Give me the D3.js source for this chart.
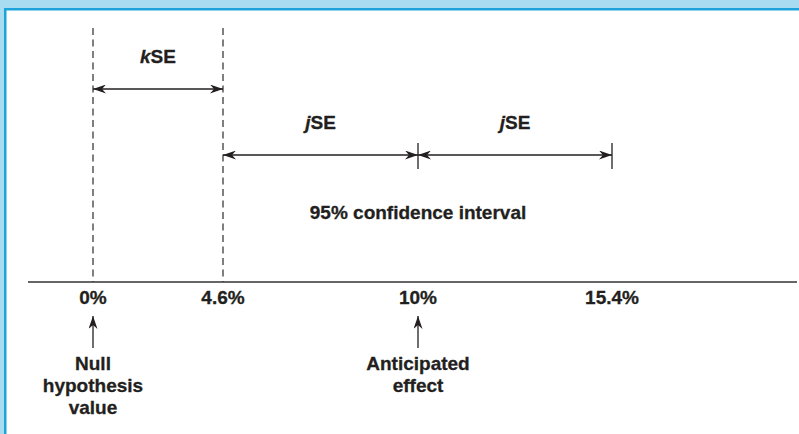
<!DOCTYPE html>
<html>
<head>
<meta charset="utf-8">
<script src="https://cdn.jsdelivr.net/npm/d3@7"></script>
<style>
  body { margin: 0; background: #fff; }
  text { font-family: "Liberation Sans", Arial, Helvetica, sans-serif; font-weight: bold; fill: #231f20; stroke: #231f20; stroke-width: 0.3px; }
</style>
</head>
<body>
<div class="figure"></div>
<script>
// values on the axis (figure is schematic, not to scale)
var tickValues = [0, 4.6, 10, 15.4];
var tickLabels = ["0%", "4.6%", "10%", "15.4%"];

// dashed guides
var dashedAt = [0, 4.6];

// SE spans: start, end, letter, row
var spanStart = [0, 4.6, 10];
var spanEnd = [4.6, 10, 15.4];
var spanLetter = ["k", "j", "j"];
var spanRow = [0, 1, 1];
var endTicksAt = [10, 15.4];

// callouts under the axis
var calloutAt = [0, 10];
var calloutLines = [["Null", "hypothesis", "value"], ["Anticipated", "effect"]];

var ciLabel = "95% confidence interval";

//Width and height
var w = 799;
var h = 434;

var x = d3.scaleLinear()
    .domain(tickValues)
    .range([93, 223, 418, 612]);

var axisY = 282;
var rowY = [89, 155];
var ink = "#231f20";

var svg = d3.select(".figure")
    .append("svg")
    .attr("width", w)
    .attr("height", h);

// frame
svg.append("rect").attr("width", w).attr("height", h).attr("fill", "#a8dcf0");
svg.append("rect").attr("x", 4).attr("y", 8).attr("width", w).attr("height", h).attr("fill", "#1ba3da");
svg.append("rect").attr("x", 6.5).attr("y", 10.5).attr("width", w).attr("height", h).attr("fill", "#fff");

// arrowhead
svg.append("defs").append("marker")
    .attr("id", "head")
    .attr("viewBox", "0 0 13 9")
    .attr("refX", 13)
    .attr("refY", 4.5)
    .attr("markerUnits", "userSpaceOnUse")
    .attr("markerWidth", 13)
    .attr("markerHeight", 9)
    .attr("orient", "auto-start-reverse")
    .append("path")
    .attr("d", "M0,0 L13,4.5 L0,9 L4,4.5 Z")
    .attr("fill", ink);

// dashed lines
svg.selectAll("line.dash")
    .data(dashedAt)
    .enter()
    .append("line")
    .attr("class", "dash")
    .attr("x1", function(d) { return x(d); })
    .attr("x2", function(d) { return x(d); })
    .attr("y1", 28)
    .attr("y2", axisY)
    .attr("stroke", "#555")
    .attr("stroke-width", 1.5)
    .attr("stroke-dasharray", "7,4.5");

// axis line
svg.append("line")
    .attr("x1", 28).attr("x2", 797)
    .attr("y1", axisY).attr("y2", axisY)
    .attr("stroke", "#333")
    .attr("stroke-width", 1.6);

// span arrows
var spans = d3.range(spanStart.length);

svg.selectAll("line.span")
    .data(spans)
    .enter()
    .append("line")
    .attr("class", "span")
    .attr("x1", function(i) { return x(spanStart[i]); })
    .attr("x2", function(i) { return x(spanEnd[i]); })
    .attr("y1", function(i) { return rowY[spanRow[i]]; })
    .attr("y2", function(i) { return rowY[spanRow[i]]; })
    .attr("stroke", ink)
    .attr("stroke-width", 1.3)
    .attr("marker-start", "url(#head)")
    .attr("marker-end", "url(#head)");

var spanText = svg.selectAll("text.span")
    .data(spans)
    .enter()
    .append("text")
    .attr("class", "span")
    .attr("x", function(i) { return (x(spanStart[i]) + x(spanEnd[i])) / 2; })
    .attr("y", function(i) { return rowY[spanRow[i]] - 26; })
    .attr("text-anchor", "middle")
    .attr("font-size", 19);
spanText.append("tspan").attr("font-style", "italic").text(function(i) { return spanLetter[i]; });
spanText.append("tspan").text("SE");

// end ticks
svg.selectAll("line.endtick")
    .data(endTicksAt)
    .enter()
    .append("line")
    .attr("class", "endtick")
    .attr("x1", function(d) { return x(d); })
    .attr("x2", function(d) { return x(d); })
    .attr("y1", rowY[1] - 12)
    .attr("y2", rowY[1] + 14)
    .attr("stroke", ink)
    .attr("stroke-width", 1.3);

// CI label
svg.append("text")
    .attr("x", x(10))
    .attr("y", 219)
    .attr("text-anchor", "middle")
    .attr("font-size", 19)
    .text(ciLabel);

// tick labels
svg.selectAll("text.tick")
    .data(tickValues)
    .enter()
    .append("text")
    .attr("class", "tick")
    .attr("x", function(d) { return x(d); })
    .attr("y", 304)
    .attr("text-anchor", "middle")
    .attr("font-size", 19)
    .text(function(d, i) { return tickLabels[i]; });

// callout arrows
svg.selectAll("line.callout")
    .data(calloutAt)
    .enter()
    .append("line")
    .attr("class", "callout")
    .attr("x1", function(d) { return x(d); })
    .attr("x2", function(d) { return x(d); })
    .attr("y1", 348)
    .attr("y2", 316)
    .attr("stroke", ink)
    .attr("stroke-width", 1.3)
    .attr("marker-end", "url(#head)");

var callText = svg.selectAll("text.callout")
    .data(calloutAt)
    .enter()
    .append("text")
    .attr("class", "callout")
    .attr("text-anchor", "middle")
    .attr("font-size", 19);
callText.selectAll("tspan")
    .data(function(d, i) { return calloutLines[i].map(function(s) { return { v: d, s: s }; }); })
    .enter()
    .append("tspan")
    .attr("x", function(d) { return x(d.v); })
    .attr("y", function(d, j) { return 370 + j * 22; })
    .text(function(d) { return d.s; });
</script>
</body>
</html>
